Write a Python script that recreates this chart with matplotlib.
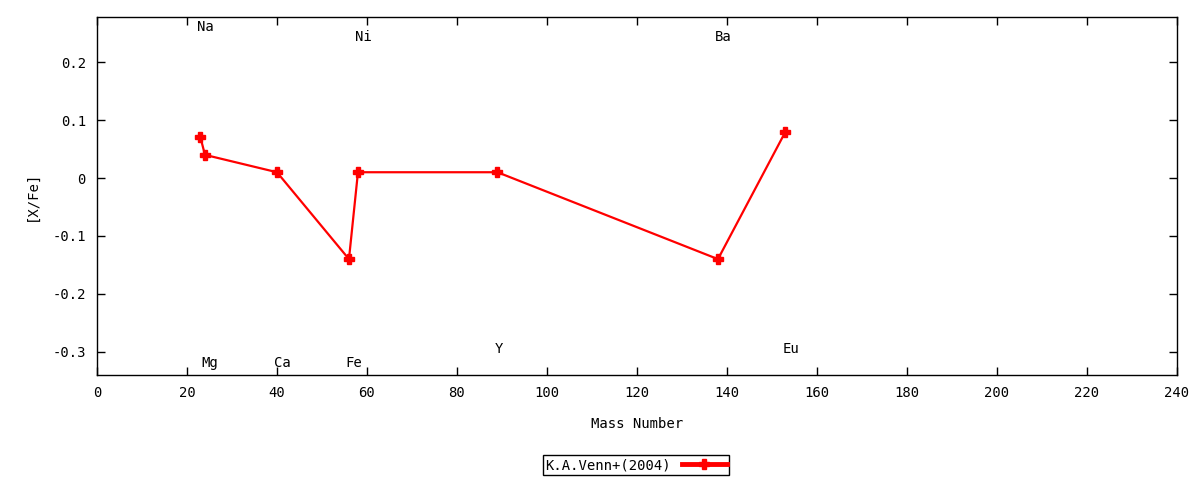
import matplotlib
matplotlib.use("Agg")
import matplotlib.pyplot as plt

# abundances vs mass number
elements = ["Na", "Mg", "Ca", "Fe", "Ni", "Y", "Ba", "Eu"]
mass_number = [23, 24, 40, 56, 58, 89, 138, 153]
x_fe = [0.07, 0.04, 0.01, -0.14, 0.01, 0.01, -0.14, 0.08]
# where the element names sit (y of the label)
label_y = [0.26, -0.319, -0.319, -0.319, 0.243, -0.295, 0.243, -0.295]

plt.rcParams["font.family"] = ["DejaVu Sans Mono"]
plt.rcParams["font.size"] = 10

fig = plt.figure(figsize=(12, 4.8), dpi=100)
ax = fig.add_axes([0.0808, 0.2188, 0.9, 0.7458])

line, = ax.plot(mass_number, x_fe, color="red", lw=1.6, marker="P",
                ms=7.5, mec="red", mfc="red", label="K.A.Venn+(2004)")

for el, m, ly in zip(elements, mass_number, label_y):
    ax.text(m - 0.7, ly, el, ha="left", va="center", fontsize=10)

ax.set_xlim(0, 240)
ax.set_ylim(-0.34, 0.278)
ax.set_xticks(range(0, 241, 20))
ax.set_yticks([-0.3, -0.2, -0.1, 0, 0.1, 0.2])
ax.set_yticklabels(["-0.3", "-0.2", "-0.1", "0", "0.1", "0.2"])
ax.tick_params(direction="in", length=6, width=1, top=True, right=True, pad=8)
for s in ax.spines.values():
    s.set_linewidth(1)

ax.set_xlabel("Mass Number", labelpad=12)
ax.set_ylabel("[X/Fe]", labelpad=10)

leg = fig.legend(handles=[line], loc="center", bbox_to_anchor=(0.53, 0.031),
                 markerfirst=False, fancybox=False, edgecolor="black",
                 framealpha=1, handlelength=3.2, borderpad=0.2,
                 handletextpad=0.8)
leg.get_frame().set_linewidth(1)
leg.get_lines()[0].set_linewidth(3.5)

fig.savefig("out.png", dpi=100)
